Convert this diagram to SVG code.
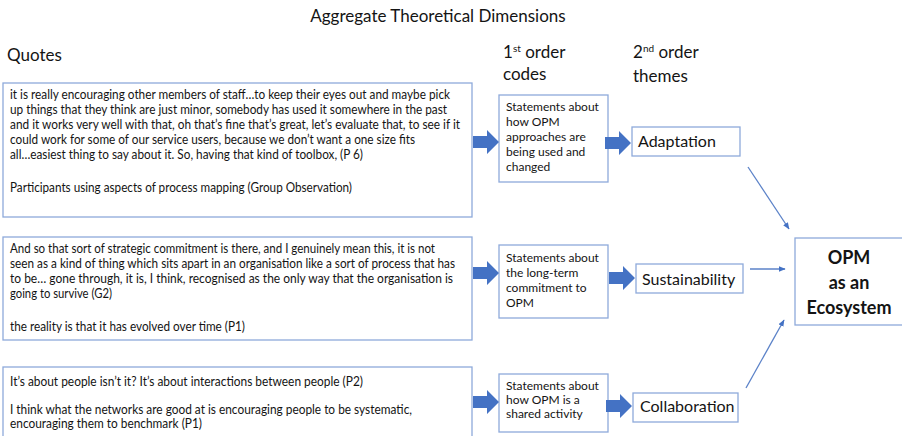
<svg xmlns="http://www.w3.org/2000/svg" width="902" height="436" viewBox="0 0 902 436">
  <style>
    text { font-family: Lato, "Open Sans", "Liberation Sans", sans-serif; fill: #141414; }
    .head { font-size: 17px; }
    .quote { font-size: 12.6px; }
    .code { font-size: 12px; }
    .theme { font-size: 16px; }
    .agg { font-size: 18px; font-weight: bold; }
    .box { fill: #ffffff; stroke: #8eaadb; stroke-width: 1.3; }
    .block { fill: #4472c4; }
    .link { stroke: #5b82c8; stroke-width: 1.3; fill: none; marker-end: url(#tip); }
  </style>
  <defs>
    <marker id="tip" viewBox="0 0 10 10" refX="9" refY="5" markerWidth="7" markerHeight="7" orient="auto" markerUnits="userSpaceOnUse">
      <path d="M0,1 L10,5 L0,9 z" fill="#4472c4"/>
    </marker>
    <!-- block arrow: shaft + head, origin at tip, pointing right -->
    <path id="blk" d="M-26,-6 L-12,-6 L-12,-12 L0,0 L-12,12 L-12,6 L-26,6 z"/>
  </defs>

  <rect width="902" height="436" fill="#ffffff"/>

  <!-- headings -->
  <g id="headings">
    <text class="head" x="438" y="22" text-anchor="middle">Aggregate Theoretical Dimensions</text>
    <text class="head" x="7" y="61" font-size="19">Quotes</text>
    <text class="head" x="503" y="58">1<tspan font-size="10" dy="-6">st</tspan><tspan dy="6"> order</tspan></text>
    <text class="head" x="503" y="80">codes</text>
    <text class="head" x="633" y="58">2<tspan font-size="10" dy="-6">nd</tspan><tspan dy="6"> order</tspan></text>
    <text class="head" x="633" y="82">themes</text>
  </g>

  <!-- quote boxes -->
  <g id="quotes-adaptation">
    <rect class="box" x="3" y="83" width="469" height="134"/>
    <text class="quote" x="10" y="99" textLength="440" lengthAdjust="spacingAndGlyphs">it is really encouraging other members of staff…to keep their eyes out and maybe pick</text>
    <text class="quote" x="10" y="114" textLength="437" lengthAdjust="spacingAndGlyphs">up things that they think are just minor, somebody has used it somewhere in the past</text>
    <text class="quote" x="10" y="129" textLength="450" lengthAdjust="spacingAndGlyphs">and it works very well with that, oh that’s fine that’s great, let’s evaluate that, to see if it</text>
    <text class="quote" x="10" y="144" textLength="405" lengthAdjust="spacingAndGlyphs">could work for some of our service users, because we don’t want a one size fits</text>
    <text class="quote" x="10" y="159" textLength="353" lengthAdjust="spacingAndGlyphs">all…easiest thing to say about it. So, having that kind of toolbox, (P 6)</text>
    <text class="quote" x="10" y="192" textLength="342" lengthAdjust="spacingAndGlyphs">Participants using aspects of process mapping (Group Observation)</text>
  </g>

  <g id="quotes-sustainability">
    <rect class="box" x="3" y="237" width="469" height="103"/>
    <text class="quote" x="10" y="253" textLength="425" lengthAdjust="spacingAndGlyphs">And so that sort of strategic commitment is there, and I genuinely mean this, it is not</text>
    <text class="quote" x="10" y="268" textLength="445" lengthAdjust="spacingAndGlyphs">seen as a kind of thing which sits apart in an organisation like a sort of process that has</text>
    <text class="quote" x="10" y="283" textLength="443" lengthAdjust="spacingAndGlyphs">to be… gone through, it is, I think, recognised as the only way that the organisation is</text>
    <text class="quote" x="10" y="298" textLength="102" lengthAdjust="spacingAndGlyphs">going to survive (G2)</text>
    <text class="quote" x="10" y="331" textLength="235" lengthAdjust="spacingAndGlyphs">the reality is that it has evolved over time (P1)</text>
  </g>

  <g id="quotes-collaboration">
    <rect class="box" x="3" y="367" width="469" height="80"/>
    <text class="quote" x="10" y="386" textLength="353" lengthAdjust="spacingAndGlyphs">It’s about people isn’t it? It’s about interactions between people (P2)</text>
    <text class="quote" x="10" y="414" textLength="402" lengthAdjust="spacingAndGlyphs">I think what the networks are good at is encouraging people to be systematic,</text>
    <text class="quote" x="10" y="428" textLength="192" lengthAdjust="spacingAndGlyphs">encouraging them to benchmark (P1)</text>
  </g>

  <!-- first order codes -->
  <g id="code-adaptation">
    <rect class="box" x="499" y="95" width="109" height="87"/>
    <text class="code" x="506" y="111">Statements about</text>
    <text class="code" x="506" y="126">how OPM</text>
    <text class="code" x="506" y="141">approaches are</text>
    <text class="code" x="506" y="156">being used and</text>
    <text class="code" x="506" y="171">changed</text>
  </g>
  <g id="code-sustainability">
    <rect class="box" x="499" y="245" width="109" height="73"/>
    <text class="code" x="506" y="262">Statements about</text>
    <text class="code" x="506" y="277">the long-term</text>
    <text class="code" x="506" y="292">commitment to</text>
    <text class="code" x="506" y="307">OPM</text>
  </g>
  <g id="code-collaboration">
    <rect class="box" x="499" y="374" width="109" height="58"/>
    <text class="code" x="506" y="390">Statements about</text>
    <text class="code" x="506" y="404">how OPM is a</text>
    <text class="code" x="506" y="418">shared activity</text>
  </g>

  <!-- second order themes -->
  <g id="theme-adaptation">
    <rect class="box" x="632" y="127" width="108" height="29"/>
    <text class="theme" x="638" y="147">Adaptation</text>
  </g>
  <g id="theme-sustainability">
    <rect class="box" x="636" y="264" width="107" height="29"/>
    <text class="theme" x="642" y="285">Sustainability</text>
  </g>
  <g id="theme-collaboration">
    <rect class="box" x="633" y="393" width="105" height="29"/>
    <text class="theme" x="640" y="412">Collaboration</text>
  </g>

  <!-- aggregate dimension -->
  <g id="aggregate">
    <rect class="box" x="795" y="238" width="110" height="87"/>
    <text class="agg" x="849" y="264" text-anchor="middle">OPM</text>
    <text class="agg" x="849" y="289" text-anchor="middle">as an</text>
    <text class="agg" x="849" y="314" text-anchor="middle">Ecosystem</text>
  </g>

  <!-- connectors -->
  <g id="connectors">
    <use href="#blk" class="block" x="499" y="142"/>
    <use href="#blk" class="block" x="631" y="143"/>
    <use href="#blk" class="block" x="499" y="273"/>
    <use href="#blk" class="block" x="635" y="278"/>
    <use href="#blk" class="block" x="499" y="402"/>
    <use href="#blk" class="block" x="632" y="406"/>
    <line class="link" x1="748" y1="167" x2="789" y2="229"/>
    <line class="link" x1="750" y1="269" x2="785" y2="269"/>
    <line class="link" x1="746" y1="388" x2="784" y2="320"/>
  </g>
</svg>
